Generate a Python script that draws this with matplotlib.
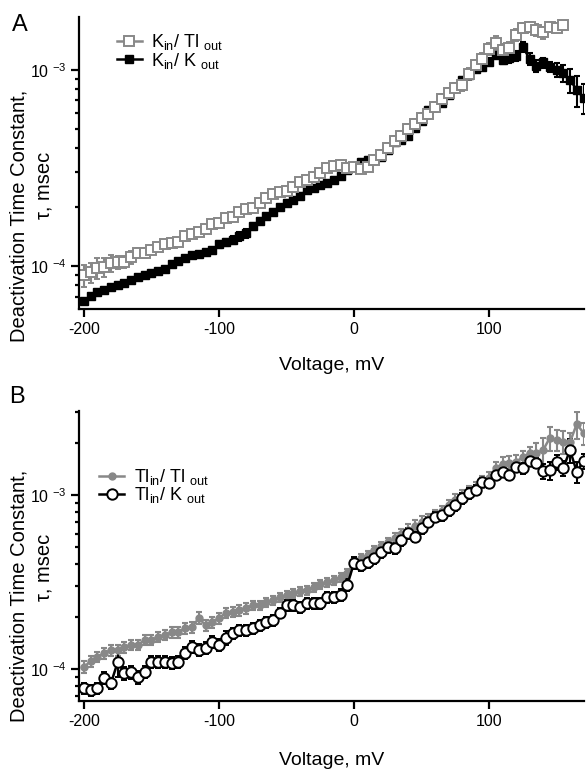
import numpy as np
import matplotlib
matplotlib.use('Agg')
import matplotlib.pyplot as plt
from matplotlib.ticker import FixedLocator, LogLocator, FuncFormatter, NullFormatter

plt.rcParams['font.family'] = ['Liberation Sans', 'DejaVu Sans']
plt.rcParams['mathtext.fontset'] = 'custom'
plt.rcParams['mathtext.rm'] = 'Liberation Sans'
plt.rcParams['mathtext.it'] = 'Liberation Sans:italic'
plt.rcParams['axes.unicode_minus'] = False

# ---- panel A: K_in / Tl_out (grey) and K_in / K_out (black) ----
volt_a_tl = list(range(-200, 160, 5))
tau_a_tl = [8.99e-5, 9.31e-5, 9.77e-5, 9.89e-5, 1.035e-4, 1.047e-4, 1.047e-4, 1.11e-4, 1.164e-4, 1.164e-4,
            1.207e-4, 1.25e-4, 1.295e-4, 1.31e-4, 1.325e-4, 1.42e-4, 1.455e-4, 1.49e-4, 1.545e-4, 1.64e-4,
            1.66e-4, 1.76e-4, 1.78e-4, 1.89e-4, 1.955e-4, 1.98e-4, 2.10e-4, 2.22e-4, 2.33e-4, 2.39e-4,
            2.415e-4, 2.53e-4, 2.69e-4, 2.75e-4, 2.85e-4, 2.98e-4, 3.16e-4, 3.24e-4, 3.27e-4, 3.16e-4,
            3.20e-4, 3.13e-4, 3.20e-4, 3.47e-4, 3.68e-4, 4.00e-4, 4.35e-4, 4.61e-4, 5.00e-4, 5.30e-4,
            5.69e-4, 5.97e-4, 6.48e-4, 7.11e-4, 7.63e-4, 8.09e-4, 8.38e-4, 9.55e-4, 1.06e-3, 1.14e-3,
            1.28e-3, 1.37e-3, 1.26e-3, 1.29e-3, 1.51e-3, 1.64e-3, 1.66e-3, 1.60e-3, 1.55e-3, 1.66e-3,
            1.64e-3, 1.70e-3]
err_pct_a_tl = [13, 12, 12, 11, 10, 8, 7, 8, 6, 6,
                5, 5, 5, 5, 4, 5, 4, 4, 4, 4,
                4, 4, 4, 4, 4, 4, 5, 4, 4, 4,
                5, 5, 4, 4, 5, 5, 5, 5, 6, 5,
                5, 5, 5, 5, 6, 6, 6, 6, 6, 6,
                6, 6, 6, 6, 6, 6, 7, 7, 6, 7,
                7, 8, 8, 7, 7, 6, 6, 7, 7, 6,
                5, 4]

volt_a_k = list(range(-200, 175, 5))
tau_a_k = [6.62e-5, 7.03e-5, 7.37e-5, 7.55e-5, 7.82e-5, 8.00e-5, 8.19e-5, 8.49e-5, 8.79e-5, 8.99e-5,
           9.20e-5, 9.42e-5, 9.66e-5, 1.024e-4, 1.061e-4, 1.099e-4, 1.138e-4, 1.151e-4, 1.178e-4, 1.207e-4,
           1.295e-4, 1.325e-4, 1.358e-4, 1.42e-4, 1.47e-4, 1.60e-4, 1.70e-4, 1.80e-4, 1.89e-4, 2.00e-4,
           2.10e-4, 2.17e-4, 2.28e-4, 2.44e-4, 2.50e-4, 2.59e-4, 2.65e-4, 2.75e-4, 2.88e-4, 3.09e-4,
           3.24e-4, 3.40e-4, 3.48e-4, 3.52e-4, 3.60e-4, 3.91e-4, 4.30e-4, 4.40e-4, 4.61e-4, 5.06e-4,
           5.50e-4, 6.25e-4, 6.48e-4, 6.79e-4, 7.45e-4, 8.19e-4, 8.89e-4, 9.42e-4, 1.012e-3, 1.035e-3,
           1.10e-3, 1.19e-3, 1.12e-3, 1.15e-3, 1.18e-3, 1.31e-3, 1.14e-3, 1.05e-3, 1.09e-3, 1.035e-3,
           1.00e-3, 9.66e-4, 8.89e-4, 7.91e-4, 7.20e-4]
err_pct_a_k = [3, 3, 3, 3, 3, 3, 3, 3, 3, 3,
               3, 3, 3, 3, 3, 3, 3, 3, 3, 3,
               4, 4, 5, 5, 5, 4, 3, 3, 3, 3,
               3, 3, 3, 3, 3, 3, 3, 3, 3, 3,
               3, 3, 3, 3, 3, 3, 3, 3, 3, 3,
               4, 4, 4, 4, 4, 4, 4, 4, 4, 4,
               4, 4, 4, 6, 6, 6, 7, 7, 6, 6,
               8, 10, 14, 18, 17]

# ---- panel B: Tl_in / Tl_out (grey) and Tl_in / K_out (white) ----
volt_b = list(range(-200, 175, 5))
tau_b_tl = [1.026e-4, 1.112e-4, 1.173e-4, 1.236e-4, 1.285e-4, 1.285e-4, 1.337e-4, 1.375e-4, 1.375e-4, 1.47e-4,
            1.47e-4, 1.53e-4, 1.57e-4, 1.63e-4, 1.63e-4, 1.72e-4, 1.74e-4, 1.96e-4, 1.79e-4, 1.86e-4,
            1.96e-4, 2.10e-4, 2.13e-4, 2.18e-4, 2.24e-4, 2.33e-4, 2.33e-4, 2.43e-4, 2.49e-4, 2.59e-4,
            2.66e-4, 2.73e-4, 2.81e-4, 2.85e-4, 2.96e-4, 3.08e-4, 3.16e-4, 3.25e-4, 3.38e-4, 3.56e-4,
            4.07e-4, 4.35e-4, 4.52e-4, 4.83e-4, 5.09e-4, 5.37e-4, 5.66e-4, 5.97e-4, 6.29e-4, 6.64e-4,
            7.00e-4, 7.28e-4, 7.67e-4, 8.09e-4, 8.76e-4, 9.36e-4, 9.87e-4, 1.04e-3, 1.10e-3, 1.19e-3,
            1.25e-3, 1.43e-3, 1.51e-3, 1.53e-3, 1.55e-3, 1.65e-3, 1.74e-3, 1.74e-3, 1.81e-3, 2.13e-3,
            2.07e-3, 2.02e-3, 2.02e-3, 2.56e-3, 2.27e-3]
err_pct_b_tl = [8, 7, 7, 7, 7, 7, 7, 7, 7, 7,
                7, 7, 7, 7, 7, 7, 7, 8, 7, 7,
                7, 7, 7, 7, 7, 6, 6, 6, 6, 6,
                6, 6, 6, 6, 6, 6, 6, 6, 6, 6,
                6, 6, 6, 6, 6, 6, 7, 7, 8, 8,
                8, 7, 7, 7, 7, 8, 8, 8, 8, 8,
                9, 9, 9, 9, 9, 9, 9, 15, 17, 16,
                14, 15, 12, 18, 15]
tau_b_k = [7.78e-5, 7.57e-5, 7.78e-5, 8.87e-5, 8.31e-5, 1.096e-4, 9.48e-5, 9.61e-5, 8.99e-5, 9.61e-5,
           1.096e-4, 1.096e-4, 1.096e-4, 1.082e-4, 1.096e-4, 1.236e-4, 1.337e-4, 1.285e-4, 1.32e-4, 1.43e-4,
           1.375e-4, 1.508e-4, 1.61e-4, 1.675e-4, 1.675e-4, 1.72e-4, 1.79e-4, 1.86e-4, 1.91e-4, 2.10e-4,
           2.33e-4, 2.33e-4, 2.27e-4, 2.39e-4, 2.39e-4, 2.39e-4, 2.59e-4, 2.59e-4, 2.66e-4, 3.04e-4,
           4.07e-4, 3.96e-4, 4.12e-4, 4.35e-4, 4.70e-4, 5.02e-4, 4.96e-4, 5.51e-4, 6.05e-4, 5.74e-4,
           6.46e-4, 7.00e-4, 7.48e-4, 7.67e-4, 8.20e-4, 8.76e-4, 9.61e-4, 1.026e-3, 1.069e-3, 1.19e-3,
           1.17e-3, 1.30e-3, 1.36e-3, 1.30e-3, 1.45e-3, 1.43e-3, 1.57e-3, 1.53e-3, 1.37e-3, 1.39e-3,
           1.55e-3, 1.43e-3, 1.81e-3, 1.36e-3, 1.57e-3]
err_pct_b_k = [7, 7, 7, 8, 7, 18, 9, 9, 9, 8,
               8, 8, 8, 8, 8, 8, 8, 8, 8, 8,
               8, 9, 7, 7, 7, 7, 7, 7, 7, 7,
               7, 7, 7, 7, 7, 7, 7, 7, 8, 8,
               8, 8, 8, 8, 7, 7, 7, 7, 7, 7,
               7, 7, 7, 7, 7, 7, 7, 7, 7, 6,
               6, 6, 6, 6, 6, 7, 7, 7, 10, 12,
               10, 10, 16, 14, 10]

labels_a = [r'K$_{\rm in}$/ Tl $_{\rm out}$', r'K$_{\rm in}$/ K $_{\rm out}$']
labels_b = [r'Tl$_{\rm in}$/ Tl $_{\rm out}$', r'Tl$_{\rm in}$/ K $_{\rm out}$']
xticks = [-200, -100, 0, 100]
ylabel_top = 'Deactivation Time Constant,'
ylabel_bottom = '\u03c4, msec'
grey = '#888888'


def yerr(vals, pct):
    return np.array(vals) * np.array(pct) / 100.0


def style_axes(ax, ylim, lab_y, tau_y):
    ax.set_yscale('log')
    ax.set_xlim(-203.7, 170)
    ax.set_ylim(*ylim)
    for s in ['top', 'right']:
        ax.spines[s].set_visible(False)
    for s in ['left', 'bottom']:
        ax.spines[s].set_linewidth(1.6)
    ax.xaxis.set_major_locator(FixedLocator(xticks))
    ax.yaxis.set_major_locator(LogLocator(base=10, numticks=10))
    ax.yaxis.set_minor_locator(LogLocator(base=10, subs=np.arange(2, 10), numticks=10))
    ax.yaxis.set_major_formatter(FuncFormatter(lambda v, p: '10 $^{\\mathrm{%d}}$' % round(np.log10(v))))
    ax.yaxis.set_minor_formatter(NullFormatter())
    ax.tick_params(which='major', length=6, width=1.6, labelsize=11.5, pad=3)
    ax.tick_params(which='minor', length=3, width=1.6)
    ax.set_xlabel('Voltage, mV', fontsize=14)
    ax.set_ylabel(ylabel_top, fontsize=14.5)
    ax.yaxis.set_label_coords(-0.100, lab_y)
    ax.text(-0.070, tau_y, ylabel_bottom, transform=ax.transAxes, rotation=90,
            ha='center', va='center', fontsize=14.5)


fig = plt.figure(figsize=(5.86, 7.69), dpi=100)
ax1 = fig.add_axes([0.1348, 0.598, 0.861, 0.380])
ax2 = fig.add_axes([0.1348, 0.0884, 0.861, 0.3771])

# panel A
eb_k = ax1.errorbar(volt_a_k, tau_a_k, yerr=yerr(tau_a_k, err_pct_a_k), fmt='-s', color='black',
                    ms=6, mfc='black', mec='black', lw=1.8, elinewidth=1.5, capsize=2.5, capthick=1.5)
eb_tl = ax1.errorbar(volt_a_tl, tau_a_tl, yerr=yerr(tau_a_tl, err_pct_a_tl), fmt='-s', color=grey,
                     ms=6.5, mfc='white', mec=grey, mew=1.4, lw=1.8, elinewidth=1.5, capsize=2.5, capthick=1.5)
style_axes(ax1, (6.04e-5, 1.86e-3), 0.318, 0.425)
ax1.legend([eb_tl[0], eb_k[0]], labels_a, loc='upper left', bbox_to_anchor=(0.05, 0.99),
           frameon=False, fontsize=13, handlelength=1.4, handletextpad=0.5, labelspacing=-0.1,
           borderaxespad=0.3)

# panel B
eb_bt = ax2.errorbar(volt_b, tau_b_tl, yerr=yerr(tau_b_tl, err_pct_b_tl), fmt='-o', color=grey,
                     ms=5, mfc=grey, mec=grey, lw=1.8, elinewidth=1.5, capsize=2.5, capthick=1.5)
eb_bk = ax2.errorbar(volt_b, tau_b_k, yerr=yerr(tau_b_k, err_pct_b_k), fmt='-o', color='black',
                     ms=7.5, mfc='white', mec='black', mew=1.4, lw=1.8, elinewidth=1.5, capsize=2.5, capthick=1.5)
style_axes(ax2, (6.55e-5, 3.04e-3), 0.362, 0.462)
ax2.legend([eb_bt[0], eb_bk[0]], labels_b, loc='upper left', bbox_to_anchor=(0.015, 0.85),
           frameon=False, fontsize=13, handlelength=1.4, handletextpad=0.5, labelspacing=-0.1,
           borderaxespad=0.3)

ax1.xaxis.set_label_coords(0.5, -0.165)
ax2.xaxis.set_label_coords(0.5, -0.175)

fig.text(0.02, 0.982, 'A', fontsize=17, va='top')
fig.text(0.016, 0.498, 'B', fontsize=17, va='top')

fig.savefig('out.png', dpi=100)
